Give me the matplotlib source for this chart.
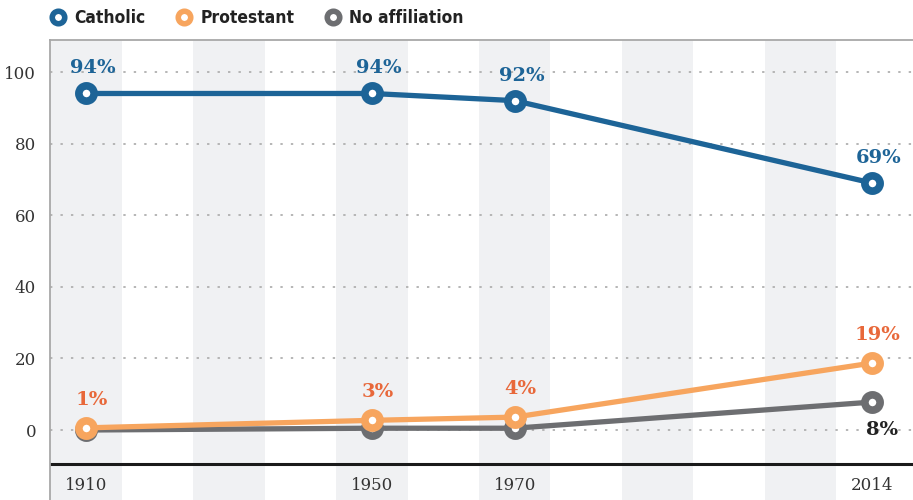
import matplotlib.pyplot as plt
from matplotlib.lines import Line2D

# survey years; the last point sits on the 2020 slot of the axis but is labelled 2014
years = ['1910', '1950', '1970', '2014']
x_pos = [1910, 1950, 1970, 2020]

catholic = [94, 94, 92, 69]
protestant = [0.6, 2.7, 3.6, 18.7]
no_affil = [0, 0.5, 0.5, 7.8]

series_names = ['Catholic', 'Protestant', 'No affiliation']
line_colors = ['#1d6497', '#f7a55e', '#6d6e71']
label_colors = ['#1d6497', '#e8683a', '#222222']

band_starts = [1905, 1925, 1945, 1965, 1985, 2005]
yticks = [0, 20, 40, 60, 80, 100]

fig = plt.figure(figsize=(9.13, 5.0), dpi=100)
ax = fig.add_axes([50 / 913, 0, 863 / 913, 460 / 500])
ax.set_xlim(1904.96, 2025.75)
ax.set_ylim(-19.55, 108.94)

for b in band_starts:
    ax.axvspan(b, b + 10, color='#f0f1f3', zorder=0, lw=0)

for t in yticks:
    ax.axhline(t, color='#b0b0b0', lw=1.3, linestyle=(0, (1.3, 4.5)), zorder=1)
ax.axhline(-9.5, color='#1a1a1a', lw=2.2, zorder=2)

ms = 11
mew = 5.5
lw = 3.8
data = [catholic, protestant, no_affil]
zorders = [6, 5, 4]
for vals, c, z in zip(data, line_colors, zorders):
    ax.plot(x_pos, vals, color=c, lw=lw, marker='o', ms=ms, mew=mew,
            mfc='white', mec=c, zorder=z, solid_capstyle='butt')

lab_font = dict(family='DejaVu Serif', weight='bold', size=14)
for x, v in zip(x_pos, catholic):
    ax.annotate(f'{round(v)}%', (x, v), xytext=(7, 25), textcoords='offset pixels',
                ha='center', va='center', color=label_colors[0], **lab_font)
for x, v in zip(x_pos, protestant):
    ax.annotate(f'{round(v)}%', (x, v), xytext=(6, 28), textcoords='offset pixels',
                ha='center', va='center', color=label_colors[1], **lab_font)
ax.annotate(f'{round(no_affil[-1])}%', (x_pos[-1], no_affil[-1]), xytext=(10, -28),
            textcoords='offset pixels', ha='center', va='center',
            color=label_colors[2], **lab_font)

tick_font = dict(family='DejaVu Serif', size=12, color='#333333')
for x, lab in zip(x_pos, years):
    ax.text(x, -15.4, lab, ha='center', va='center', **tick_font)

ax.set_xticks([])
ax.set_yticks(yticks)
ax.set_yticklabels([str(t) for t in yticks], **tick_font)
ax.tick_params(axis='y', length=0, pad=10)

for s in ['left', 'top']:
    ax.spines[s].set_color('#a8a8a8')
    ax.spines[s].set_linewidth(1.3)
ax.spines['right'].set_visible(False)
ax.spines['bottom'].set_visible(False)

handles = [Line2D([], [], color=c, marker='o', ms=9, mew=4, mfc='white', mec=c, lw=0)
           for c in line_colors]
fig.legend(handles, series_names, loc='center left', bbox_to_anchor=(32 / 913, 1 - 18 / 500),
           ncol=3, frameon=False, handletextpad=0.35, columnspacing=1.6, handlelength=1.2,
           prop=dict(family='DejaVu Sans', weight='bold', stretch='condensed', size=12.5),
           labelcolor='#222222')

fig.savefig('out.png', dpi=100)
